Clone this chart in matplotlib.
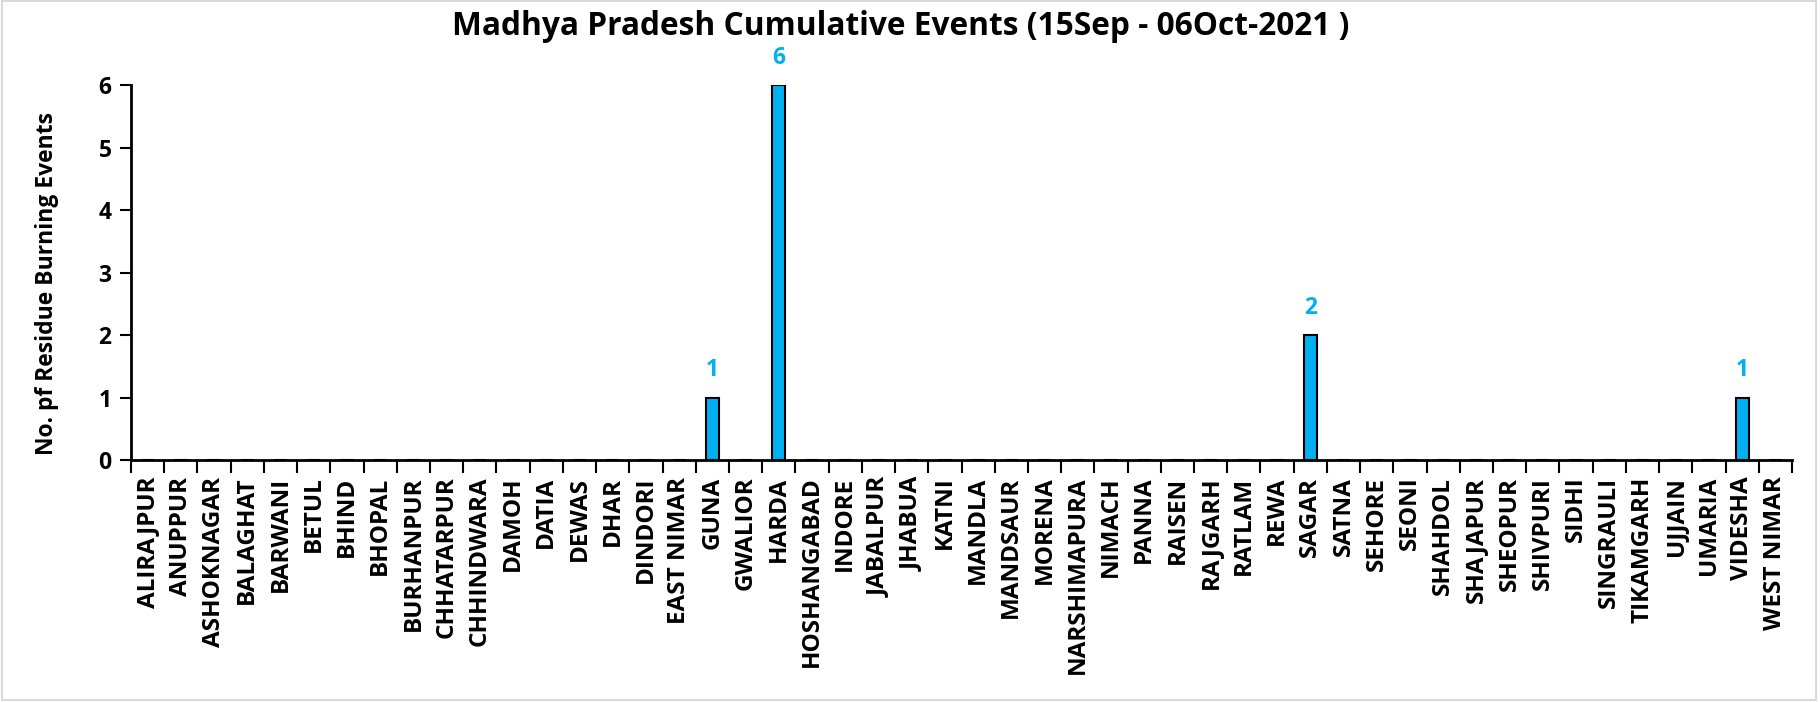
import numpy as np
import matplotlib
matplotlib.use("Agg")
import matplotlib.pyplot as plt
from matplotlib.patches import Rectangle

# ====== DATA ======
districts = [
    "ALIRAJPUR", "ANUPPUR", "ASHOKNAGAR", "BALAGHAT", "BARWANI", "BETUL",
    "BHIND", "BHOPAL", "BURHANPUR", "CHHATARPUR", "CHHINDWARA", "DAMOH",
    "DATIA", "DEWAS", "DHAR", "DINDORI", "EAST NIMAR", "GUNA", "GWALIOR",
    "HARDA", "HOSHANGABAD", "INDORE", "JABALPUR", "JHABUA", "KATNI",
    "MANDLA", "MANDSAUR", "MORENA", "NARSHIMAPURA", "NIMACH", "PANNA",
    "RAISEN", "RAJGARH", "RATLAM", "REWA", "SAGAR", "SATNA", "SEHORE",
    "SEONI", "SHAHDOL", "SHAJAPUR", "SHEOPUR", "SHIVPURI", "SIDHI",
    "SINGRAULI", "TIKAMGARH", "UJJAIN", "UMARIA", "VIDESHA", "WEST NIMAR",
]
events = [
    0, 0, 0, 0, 0, 0, 0, 0, 0, 0, 0, 0, 0, 0, 0, 0, 0, 1, 0, 6,
    0, 0, 0, 0, 0, 0, 0, 0, 0, 0, 0, 0, 0, 0, 0, 2, 0, 0, 0, 0,
    0, 0, 0, 0, 0, 0, 0, 0, 1, 0,
]
yticks = [0, 1, 2, 3, 4, 5, 6]

title = "Madhya Pradesh Cumulative Events (15Sep - 06Oct-2021 )"
ylabel = "No. pf Residue Burning Events"

# ====== STYLE ======
plt.rcParams['font.family'] = ['Open Sans', 'DejaVu Sans']
plt.rcParams['font.weight'] = 'bold'
bar_color = '#00B0F0'

fig = plt.figure(figsize=(18.2, 7.02), dpi=100)
ax = fig.add_axes([0.072, 0.3447, 0.9126, 0.5342])

x = np.arange(len(districts))
ax.bar(x, events, width=0.4, color=bar_color, edgecolor='black', linewidth=1.5, zorder=3)

# value labels only for non-zero bars
for xi, v in zip(x, events):
    if v > 0:
        ax.annotate(str(v), (xi, v), xytext=(0, 11), textcoords='offset points',
                    ha='center', va='bottom', color=bar_color, fontsize=16.5, fontweight='bold')

ax.set_xlim(-0.5, len(districts) - 0.5)
ax.set_ylim(0, 6)
ax.set_yticks(yticks)
ax.set_yticklabels([str(t) for t in yticks], fontsize=16.5, fontweight='bold')

# ticks on category boundaries, labels at centres
ax.set_xticks(np.arange(-0.5, len(districts), 1.0))
ax.set_xticklabels([])
ax.set_xticks(x, minor=True)
ax.set_xticklabels(districts, minor=True, rotation=90, fontsize=17.5, fontweight='bold')
ax.tick_params(axis='x', which='major', direction='out', length=9, width=1.5)
ax.tick_params(axis='x', which='minor', length=0, pad=12)
ax.tick_params(axis='y', direction='out', length=8, width=1.5, pad=6)

for side in ['top', 'right']:
    ax.spines[side].set_visible(False)
for side in ['left', 'bottom']:
    ax.spines[side].set_linewidth(2)

ax.set_ylabel(ylabel, fontsize=16.5, fontweight='bold')
ax.yaxis.set_label_coords(-0.0435, 0.47)
fig.text(0.495, 0.962, title, ha='center', va='center', fontsize=22.8, fontweight='bold')

# light chart-area border
fig.patches.append(Rectangle((0.001, 0.003), 0.997, 0.995, transform=fig.transFigure,
                             fill=False, edgecolor='#D9D9D9', linewidth=1.5))

fig.savefig("out.png", dpi=100, facecolor='white')
